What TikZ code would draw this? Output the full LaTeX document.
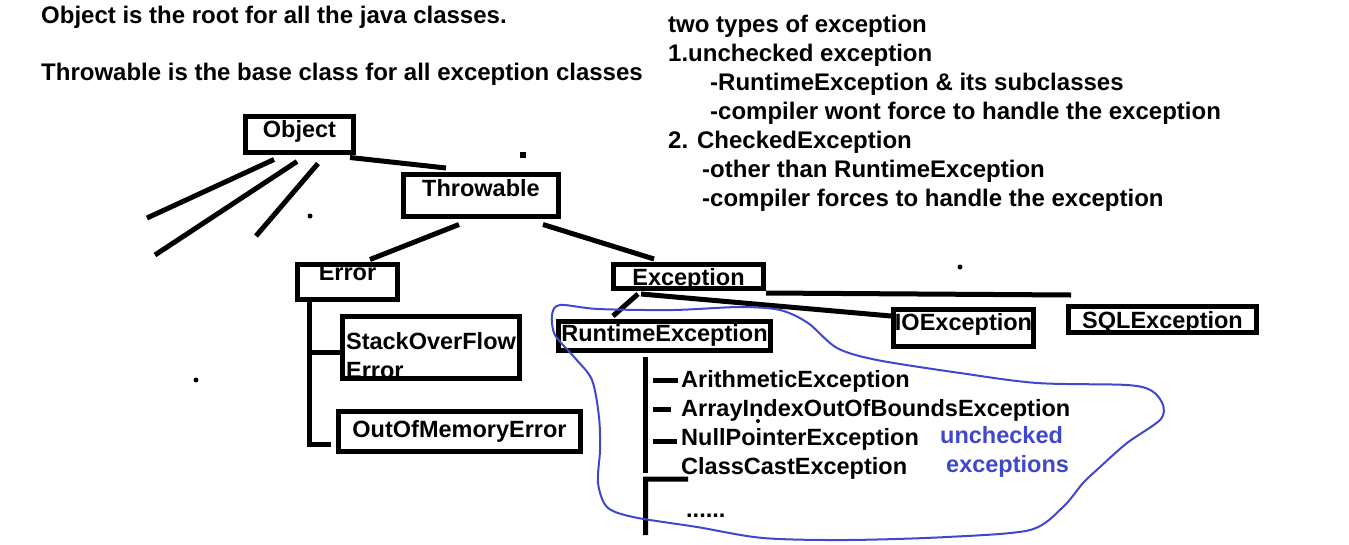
\documentclass[tikz,border=0pt]{standalone}
\usepackage{fontspec}
\usepackage{xcolor}
\usepackage{tikz}
\usetikzlibrary{calc}
\newfontfamily\paintfont{Liberation Sans}
\definecolor{paintblue}{HTML}{3F48CC}

\begin{document}
\begin{tikzpicture}[x=1pt,y=-1pt,
  txt/.style={font=\paintfont\bfseries\fontsize{23.5}{29}\selectfont,inner sep=0pt},
  cls/.style={txt,draw,line width=5pt},
  sub/.style={txt,anchor=base west},
  top/.style={sub,font=\paintfont\bfseries\fontsize{24}{29}\selectfont},
  note/.style={sub,text=paintblue},
  wire/.style={line width=5pt},
  blob/.style={draw=paintblue,line width=2pt}
]
\useasboundingbox (0,0) rectangle (1349,544);

% notes
\node[top] (rootnote) at (41,23) {Object is the root for all the java classes.};
\node[top] (basenote) at (41,80) {Throwable is the base class for all exception classes};

\node[top] (types) at (668,32) {two types of exception};
\node[top] (unchk) at (668,61) {1.unchecked exception};
\node[top] (unchkA) at (710,90) {-RuntimeException \& its subclasses};
\node[top] (unchkB) at (710,119) {-compiler wont force to handle the exception};
\node[top] (chk) at (668,148) {2. CheckedException};
\node[top] (chkA) at (702,177) {-other than RuntimeException};
\node[top] (chkB) at (702,206) {-compiler forces to handle the exception};

% classes
\node[cls,minimum width=108,text height=20.5,text depth=15.5] (object) at (299.5,134.5) {Object};
\node[cls,minimum width=155,text height=21.5,text depth=20.5] (throwable) at (481,195.5) {Throwable};
\node[cls,minimum width=100,text height=15.5,text depth=19.5] (error) at (347.5,282) {Error};
\node[cls,minimum width=150,text height=20.5,text depth=3.5] (exception) at (688.5,276.5) {Exception};
\node[cls,minimum width=212,text height=19.5,text depth=9.5] (runtime) at (664.5,336) {RuntimeException};
\node[cls,minimum width=140,text height=20.5,text depth=16.5] (io) at (963.5,328) {IOException};
\node[cls,minimum width=188,text height=21.5,text depth=4.5] (sql) at (1162.5,319.5) {SQLException};
\node[cls,minimum width=177,text height=62,text depth=-1,align=left] (stack) at (431,347) {StackOverFlow\\Error};
\node[cls,minimum width=242,text height=25.5,text depth=14.5] (oom) at (459.5,431.5) {OutOfMemoryError};

\node[sub] (arith) at (681,387) {ArithmeticException};
\node[sub] (arrayidx) at (681,416) {ArrayIndexOutOfBoundsException};
\node[sub] (nullptr) at (681,445) {NullPointerException};
\node[sub] (classcast) at (681,474) {ClassCastException};
\node[sub] (more) at (686,517) {......};

\node[note] (uncheckedA) at (940,443) {unchecked};
\node[note] (uncheckedB) at (946,472) {exceptions};

% connectors
\coordinate (stubA) at (147,218);
\coordinate (stubB) at (155,255);
\coordinate (stubC) at (256,236);
\draw[wire] ($(object.south west)+(31,4.5)$) -- (stubA);
\draw[wire] ($(object.south west)+(54,6.5)$) -- (stubB);
\draw[wire] ($(object.south west)+(75,8.5)$) -- (stubC);
\draw[wire] ($(object.south east)+(-6,2.5)$) -- ($(throwable.north west)+(45,-4)$);

\draw[wire] ($(throwable.south west)+(58,5.5)$) -- ($(error.north)+(22.5,-2.5)$);
\draw[wire] ($(throwable.south east)+(-18,5.5)$) -- ($(exception.north west)+(43,-3)$);

\draw[wire] ($(error.south west)+(14.5,0)$) coordinate (etop) -- ++(0,142) -- ++(21,0);
\coordinate (stackin) at ($(stack.west)+(0,5)$);
\draw[wire] (etop |- stackin) -- (stackin);

\draw[wire] ($(exception.south west)+(27,3)$) -- ($(runtime.north west)+(57,-3)$);
\draw[wire] ($(exception.south west)+(30,3)$) -- ($(io.north west)+(0,9)$);
\draw[wire] ($(exception.south east)+(0,2)$) -- ($(sql.north west)+(5,-9)$);

\draw[wire] ($(runtime.south west)+(89.5,4)$) coordinate (rtop) -- ++(0,116);
\draw[wire] ($(rtop)+(0,178)$) -- ($(rtop)+(0,122)$) -- ($(classcast.south west)+(7,0)$);
\draw[wire] ($(arith.west)+(-28,0)$) -- ($(arith.west)+(-3,0)$);
\draw[wire] ($(arrayidx.west)+(-28,0)$) -- ($(arrayidx.west)+(-10,0)$);
\draw[wire] ($(nullptr.west)+(-28,3)$) -- ($(nullptr.west)+(-4,3)$);

% unchecked group
\draw[blob] plot[smooth cycle,tension=0.5] coordinates {
  (560,305) (598,309) (673,310) (740,307) (780,310) (808,323) (837,348)
  (877,360) (960,373) (1037,383) (1127,385) (1152,391) (1163,405) (1160,420)
  (1127,443) (1100,467) (1083,483) (1063,507) (1030,530) (947,537) (847,540)
  (763,538) (697,527) (633,517) (607,507) (598,483) (600,450) (599,417)
  (592,380) (575,358) (555,335) (552,315)};

% stray marks
\fill (310,216) circle (2.5);
\fill (520,152) rectangle (526,158);
\fill (960,267) circle (2.5);
\fill (196,380) circle (2.5);
\fill (758,421) circle (2);
\end{tikzpicture}
\end{document}
